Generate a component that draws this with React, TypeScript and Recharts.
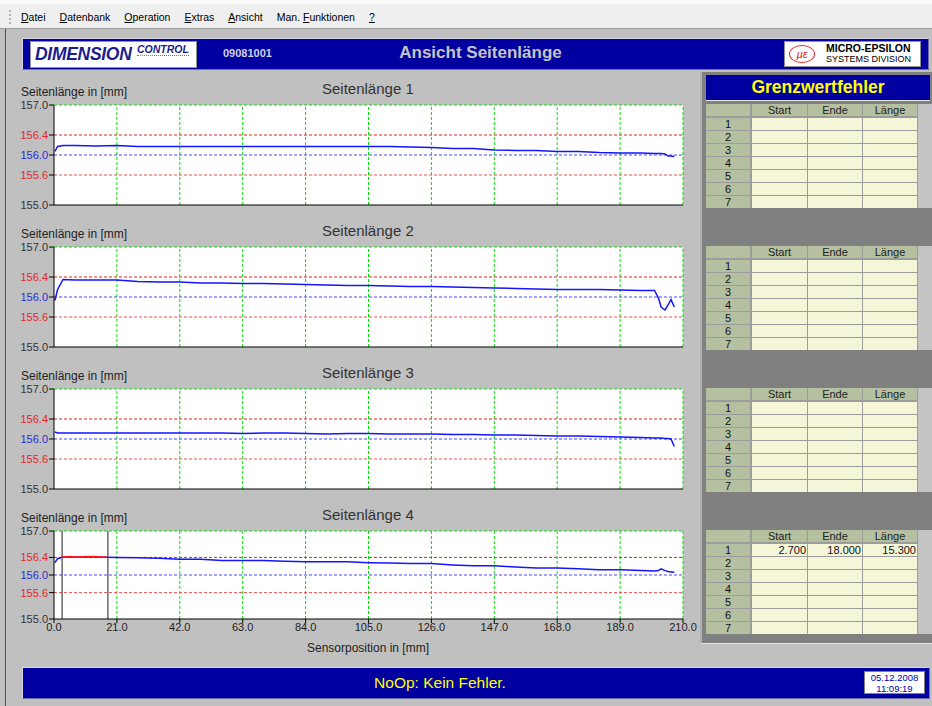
import React from 'react';
import { LineChart, Line, XAxis, YAxis, CartesianGrid, ReferenceLine } from 'recharts';

const FONT = '"Liberation Sans", Arial, sans-serif';

// Sensor positions in mm, shared by all four sides
const POSITIONS = [
  0.3, 1.2, 3, 7, 14, 21, 28, 35, 42, 49, 56, 63, 70, 77, 84, 91, 98, 105, 112, 119,
  126, 133, 140, 147, 154, 161, 168, 175, 182, 189, 196, 200.5, 201.8, 202.7, 204, 205, 206, 207.1,
];

const SIDE_1 = [
  156.07, 156.17, 156.19, 156.19, 156.18, 156.19, 156.17, 156.17, 156.17, 156.17, 156.17, 156.17,
  156.17, 156.17, 156.17, 156.17, 156.17, 156.17, 156.17, 156.16, 156.15, 156.13, 156.13, 156.1,
  156.09, 156.09, 156.07, 156.07, 156.05, 156.04, 156.04, 156.03, 156.03, 156.03, 156.02, 155.98,
  155.98, 155.97,
];

const SIDE_2 = [
  155.93, 156.15, 156.35, 156.34, 156.34, 156.34, 156.31, 156.3, 156.3, 156.28, 156.28, 156.27,
  156.27, 156.26, 156.25, 156.24, 156.23, 156.23, 156.22, 156.21, 156.21, 156.2, 156.19, 156.18,
  156.17, 156.16, 156.15, 156.15, 156.15, 156.14, 156.13, 156.13, 155.98, 155.8, 155.74, 155.84,
  155.95, 155.8,
];

const SIDE_3 = [
  156.14, 156.12, 156.12, 156.12, 156.12, 156.12, 156.12, 156.12, 156.12, 156.12, 156.12, 156.11,
  156.12, 156.12, 156.11, 156.1, 156.11, 156.11, 156.1, 156.1, 156.1, 156.09, 156.09, 156.08,
  156.08, 156.07, 156.06, 156.06, 156.05, 156.04, 156.03, 156.02, 156.02, 156.02, 156.01, 156.01,
  156.0, 155.85,
];

const SIDE_4 = [
  156.28, 156.37, 156.41, 156.41, 156.41, 156.4, 156.39, 156.38, 156.36, 156.36, 156.33, 156.33,
  156.33, 156.31, 156.3, 156.3, 156.3, 156.28, 156.27, 156.26, 156.26, 156.23, 156.21, 156.21,
  156.18, 156.16, 156.16, 156.14, 156.12, 156.12, 156.1, 156.09, 156.1, 156.14, 156.1, 156.08,
  156.07, 156.06,
];

const SIDES = [SIDE_1, SIDE_2, SIDE_3, SIDE_4];
const SIDE_TITLES = ['Seitenlänge 1', 'Seitenlänge 2', 'Seitenlänge 3', 'Seitenlänge 4'];

// out-of-tolerance part of side 4 (drawn red)
const RED_POSITIONS = [2.7, 5, 8, 11, 14, 16, 18];
const RED_VALUES = [156.41, 156.42, 156.41, 156.42, 156.42, 156.41, 156.41];

// Grenzwertfehler entries
const FAULT_SIDE = [4];
const FAULT_START = [2.7];
const FAULT_END = [18.0];

const X_TICKS = [0, 21, 42, 63, 84, 105, 126, 147, 168, 189, 210];
const Y_TICKS = [155.0, 155.6, 156.0, 156.4, 157.0];
const UPPER = 156.4;
const NOMINAL = 156.0;
const LOWER = 155.6;

const MENU_ITEMS = ['&Datei', '&Datenbank', '&Operation', '&Extras', '&Ansicht', 'Man. &Funktionen', '&?'];
const TABLE_HEADERS = ['', 'Start', 'Ende', 'Länge'];
const ROW_LABELS = ['1', '2', '3', '4', '5', '6', '7'];

const BLUE_BAR = '#0000a0';

const Mnemonic = ({ label }: { label: string }) => {
  const i = label.indexOf('&');
  if (i < 0) return <span>{label}</span>;
  return (
    <span>
      {label.slice(0, i)}
      <u>{label.charAt(i + 1)}</u>
      {label.slice(i + 2)}
    </span>
  );
};

const YTick = ({ x, y, payload }: any) => {
  const v = payload.value;
  const color = v === NOMINAL ? '#2a2ad8' : v === UPPER || v === LOWER ? '#e02828' : '#333';
  return (
    <text x={x} y={y} dy={4} textAnchor="end" fill={color} fontSize={11} fontFamily={FONT}>
      {Number(v).toFixed(1)}
    </text>
  );
};

const SideChart = ({ index }: { index: number }) => {
  const plotTop = 105 + index * 142;
  const last = index === SIDES.length - 1;
  const plotHeight = last ? 88 : 100;
  const xAxisHeight = last ? 28 : 1;
  const marginTop = 8;
  const marginBottom = last ? 2 : 8;
  const height = marginTop + plotHeight + xAxisHeight + marginBottom;
  const rows = POSITIONS.map((x, i) => ({ x, v: SIDES[index][i] }));
  const redRows = RED_POSITIONS.map((x, i) => ({ x, r: RED_VALUES[i] }));

  return (
    <>
      <div style={{ position: 'absolute', left: 21, top: plotTop - 20.5, fontSize: 12, lineHeight: '14px', color: '#222' }}>
        Seitenlänge in [mm]
      </div>
      <div style={{ position: 'absolute', left: 322, top: plotTop - 25, fontSize: 15, lineHeight: '18px', color: '#333' }}>
        {SIDE_TITLES[index]}
      </div>
      <div style={{ position: 'absolute', left: 0, top: plotTop - marginTop }}>
        <LineChart width={700} height={height} data={rows} margin={{ top: marginTop, right: 17, bottom: marginBottom, left: 0 }}>
          <CartesianGrid fill="#ffffff" fillOpacity={1} horizontal={false} vertical={false} />
          <XAxis
            dataKey="x"
            type="number"
            domain={[0, 210]}
            ticks={X_TICKS}
            interval={0}
            allowDataOverflow
            height={xAxisHeight}
            stroke="#000"
            tickSize={last ? 4 : 0}
            tickMargin={0}
            tick={last ? { fill: '#222', fontSize: 11, fontFamily: FONT } : false}
            tickFormatter={(v) => Number(v).toFixed(1)}
          />
          <YAxis
            type="number"
            domain={[155, 157]}
            ticks={Y_TICKS}
            interval={0}
            allowDataOverflow
            width={54}
            stroke="#000"
            tickSize={5}
            tickMargin={1}
            tick={(p: any) => <YTick {...p} />}
          />
          {X_TICKS.slice(1).map((t) => (
            <ReferenceLine key={t} x={t} stroke="#00e000" strokeDasharray="3 2" />
          ))}
          <ReferenceLine y={157} stroke="#00e000" strokeDasharray="3 2" />
          <ReferenceLine y={UPPER} stroke="#e82020" strokeDasharray="3 2" />
          <ReferenceLine y={NOMINAL} stroke="#4848ff" strokeDasharray="3 2" />
          <ReferenceLine y={LOWER} stroke="#f05050" strokeDasharray="3 2" />
          {FAULT_SIDE.map((s, j) =>
            s === index + 1 ? (
              <React.Fragment key={j}>
                <ReferenceLine x={FAULT_START[j]} stroke="#202020" />
                <ReferenceLine x={FAULT_END[j]} stroke="#202020" />
              </React.Fragment>
            ) : null
          )}
          <Line type="linear" dataKey="v" stroke="#1414ff" strokeWidth={1.5} dot={false} isAnimationActive={false} />
          {last && (
            <Line
              type="linear"
              data={redRows}
              dataKey="r"
              stroke="#ff1a1a"
              strokeWidth={1.5}
              dot={false}
              isAnimationActive={false}
            />
          )}
        </LineChart>
      </div>
    </>
  );
};

const COLS = [
  { left: 706, width: 44 },
  { left: 752, width: 55 },
  { left: 808, width: 54 },
  { left: 863, width: 54 },
];

const FaultTable = ({ side, top }: { side: number; top: number }) => {
  const entries = FAULT_SIDE.map((s, j) => ({ s, j }))
    .filter((e) => e.s === side)
    .map(({ j }) => [FAULT_START[j], FAULT_END[j], FAULT_END[j] - FAULT_START[j]]);

  return (
    <>
      <div style={{ position: 'absolute', left: 706, top, width: 212, height: 104, background: '#9c9c9c' }} />
      <div style={{ position: 'absolute', left: 918, top, width: 14, height: 104, background: '#c4c4c4' }} />
      {TABLE_HEADERS.map((h, c) => (
        <div
          key={c}
          style={{
            position: 'absolute', left: COLS[c].left, top, width: COLS[c].width, height: 12,
            background: '#b4c0a0', fontSize: 11, lineHeight: '12px', textAlign: 'center', color: '#222',
          }}
        >
          {h}
        </div>
      ))}
      {ROW_LABELS.map((label, r) => (
        <React.Fragment key={r}>
          {COLS.map((col, c) => {
            const entry = entries[r];
            const text = c === 0 ? label : entry ? entry[c - 1].toFixed(3) : '';
            return (
              <div
                key={c}
                style={{
                  position: 'absolute', left: col.left, top: top + 14 + r * 13, width: col.width, height: 12,
                  background: c === 0 ? '#b4c0a0' : '#f5f5d8', fontSize: 11, lineHeight: '12px',
                  textAlign: c === 0 ? 'center' : 'right', paddingRight: c === 0 ? 0 : 1,
                  boxSizing: 'border-box', color: '#111',
                }}
              >
                {text}
              </div>
            );
          })}
        </React.Fragment>
      ))}
    </>
  );
};

export default function App() {
  return (
    <div style={{ position: 'fixed', left: 0, top: 0, width: 932, height: 706, background: '#c0c0c0', fontFamily: FONT, overflow: 'hidden' }}>
      {/* menu bar */}
      <div style={{ position: 'absolute', left: 0, top: 0, width: 932, height: 28, background: '#efefef', borderBottom: '1px solid #9c9c9c' }}>
        <div style={{ position: 'absolute', left: 0, top: 0, width: 932, height: 4, background: '#fbfbfb' }} />
        <div style={{ position: 'absolute', left: 9, top: 10, width: 0, height: 14, borderLeft: '2px dotted #b4b4b4' }} />
        <div style={{ position: 'absolute', left: 21, top: 10, display: 'flex', gap: 14, fontSize: 10.5, lineHeight: '14px', color: '#000', whiteSpace: 'nowrap' }}>
          {MENU_ITEMS.map((m) => (
            <Mnemonic key={m} label={m} />
          ))}
        </div>
      </div>
      <div style={{ position: 'absolute', left: 5, top: 29, width: 1, height: 677, background: '#505050' }} />

      {/* header */}
      <div style={{ position: 'absolute', left: 22, top: 38, width: 905, height: 30, background: BLUE_BAR, borderTop: '1px solid #d8d8e0', borderLeft: '1px solid #d8d8e0', borderBottom: '1px solid #7070a0', borderRight: '1px solid #7070a0' }} />
      <div style={{ position: 'absolute', left: 30, top: 41, width: 165, height: 25, background: '#fff', border: '1px solid #909090' }} />
      <div style={{ position: 'absolute', left: 35, top: 44, fontSize: 17.5, lineHeight: '20px', fontWeight: 'bold', fontStyle: 'italic', color: '#1c1c8c', letterSpacing: -0.3 }}>
        DIMENSION
      </div>
      <div style={{ position: 'absolute', left: 137, top: 43, fontSize: 10.5, lineHeight: '12px', fontWeight: 'bold', fontStyle: 'italic', color: '#1c1c8c', borderBottom: '1px dotted #e04040' }}>
        CONTROL
      </div>
      <div style={{ position: 'absolute', left: 223, top: 46, fontSize: 11, lineHeight: '14px', fontWeight: 'bold', color: '#d0d0e0' }}>09081001</div>
      <div style={{ position: 'absolute', left: 300, width: 361, top: 43, fontSize: 17, lineHeight: '20px', fontWeight: 'bold', color: '#c4c4c4', textAlign: 'center' }}>
        Ansicht Seitenlänge
      </div>
      <div style={{ position: 'absolute', left: 784, top: 41, width: 135, height: 24, background: '#fff', border: '1px solid #909090' }} />
      <div style={{ position: 'absolute', left: 789, top: 45, width: 24, height: 16, border: '1px solid #e02020', borderRadius: '50%', color: '#e02020', fontSize: 11, lineHeight: '16px', textAlign: 'center', fontStyle: 'italic' }}>
        µε
      </div>
      <div style={{ position: 'absolute', left: 826, top: 42, fontSize: 10.5, lineHeight: '12px', fontWeight: 'bold', color: '#000' }}>MICRO-EPSILON</div>
      <div style={{ position: 'absolute', left: 826, top: 54, fontSize: 9, lineHeight: '11px', color: '#000' }}>SYSTEMS DIVISION</div>

      {/* charts */}
      {SIDES.map((_, i) => (
        <SideChart key={i} index={i} />
      ))}
      <div style={{ position: 'absolute', left: 268, width: 200, top: 641, fontSize: 12, lineHeight: '14px', color: '#222', textAlign: 'center' }}>
        Sensorposition in [mm]
      </div>

      {/* Grenzwertfehler panel */}
      <div style={{ position: 'absolute', left: 700, top: 72, width: 232, height: 572, background: '#808080', borderLeft: '2px solid #b0b0b0', borderBottom: '1px solid #e8e8e8', boxSizing: 'border-box' }} />
      <div style={{ position: 'absolute', left: 706, top: 75, width: 224, height: 25, background: BLUE_BAR, borderBottom: '1px solid #e8e8e8', color: '#ffff00', fontWeight: 'bold', fontSize: 17.5, lineHeight: '25px', textAlign: 'center' }}>
        Grenzwertfehler
      </div>
      {[104, 246, 388, 530].map((t, i) => (
        <FaultTable key={i} side={i + 1} top={t} />
      ))}

      {/* status bar */}
      <div style={{ position: 'absolute', left: 22, top: 667, width: 906, height: 30, background: BLUE_BAR, borderTop: '1px solid #d8d8e0', borderLeft: '1px solid #d8d8e0', borderBottom: '1px solid #7070a0', borderRight: '1px solid #7070a0' }} />
      <div style={{ position: 'absolute', left: 22, width: 836, top: 673, fontSize: 15.5, lineHeight: '20px', color: '#ffff00', textAlign: 'center' }}>
        NoOp: Kein Fehler.
      </div>
      <div style={{ position: 'absolute', left: 864, top: 671, width: 61, height: 23, background: '#fff', border: '1px solid #808080', color: '#0000b0', fontSize: 9.5, lineHeight: '11px', textAlign: 'center', boxSizing: 'border-box', paddingTop: 0 }}>
        <div>05.12.2008</div>
        <div>11:09:19</div>
      </div>
    </div>
  );
}
